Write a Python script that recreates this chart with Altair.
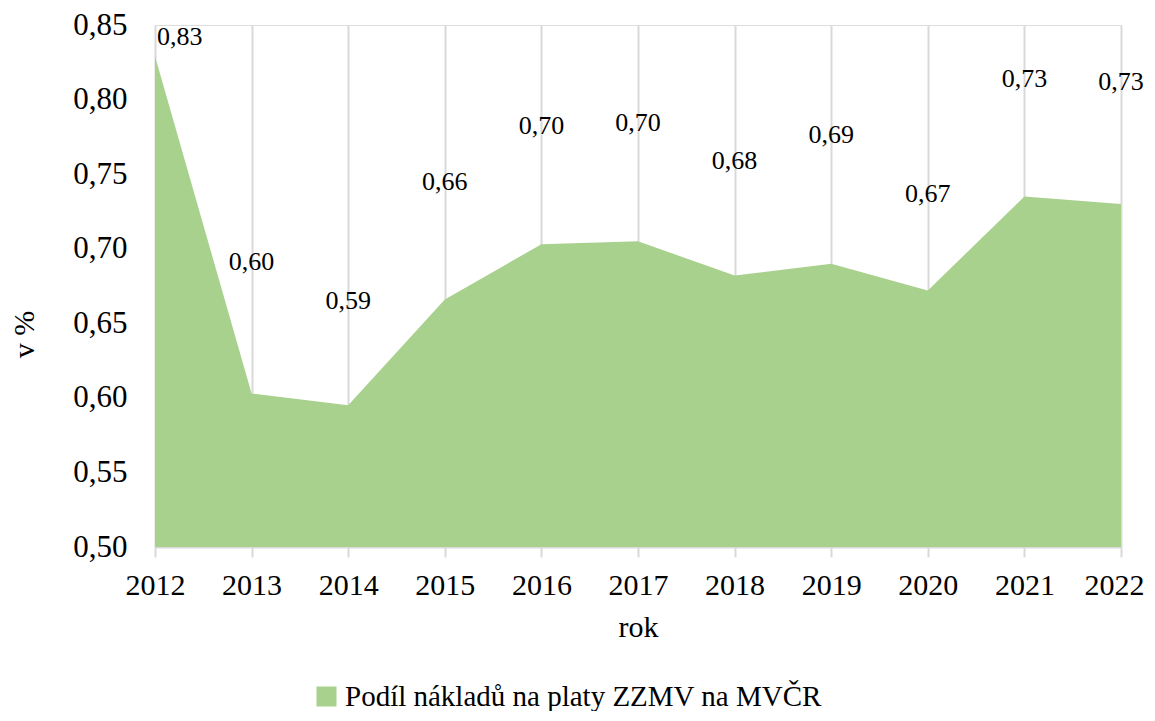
import altair as alt
import pandas as pd

years = [2012, 2013, 2014, 2015, 2016, 2017, 2018, 2019, 2020, 2021, 2022]
values = [0.829, 0.603, 0.595, 0.666, 0.703, 0.705, 0.682, 0.690, 0.672, 0.735, 0.730]
label_texts = ["0,83", "0,60", "0,59", "0,66", "0,70", "0,70", "0,68", "0,69", "0,67", "0,73", "0,73"]
label_y = [0.842, 0.691, 0.665, 0.745, 0.782, 0.784, 0.759, 0.776, 0.737, 0.814, 0.812]
series_name = "Podíl nákladů na platy ZZMV na MVČR"
y_ticks = [0.50, 0.55, 0.60, 0.65, 0.70, 0.75, 0.80, 0.85]

FONT = "Liberation Serif"
GREEN = "#A9D18E"

df = pd.DataFrame({
    "rok": years,
    "hodnota": values,
    "popisek": label_texts,
    "pozice": label_y,
    "serie": [series_name] * len(years),
})

x_enc = alt.X(
    "rok:Q",
    scale=alt.Scale(domain=[2012, 2022], nice=False, zero=False),
    axis=alt.Axis(
        title="rok",
        values=years,
        format="d",
        labelFlush=False,
        labelOverlap=False,
        labelOffset={"condition": {"test": "datum.value == 2022", "value": -7}, "value": 0},
        grid=True,
        gridColor="#D9D9D9",
        gridWidth=2,
        domainColor="#D9D9D9",
        domainWidth=2,
        tickColor="#D9D9D9",
        tickWidth=2,
        tickSize=10,
        labelPadding=13,
        labelFont=FONT,
        labelFontSize=30,
        labelColor="black",
        titleFont=FONT,
        titleFontSize=30,
        titleFontWeight="normal",
        titleColor="black",
        titlePadding=12,
    ),
)

y_axis = alt.Axis(
    title="v %",
    values=y_ticks,
    labelExpr="replace(format(datum.value, '.2f'), '.', ',')",
    grid=False,
    domain=False,
    ticks=False,
    tickSize=0,
    labelPadding=28,
    labelFont=FONT,
    labelFontSize=31,
    labelColor="black",
    titleFont=FONT,
    titleFontSize=30,
    titleFontWeight="normal",
    titleColor="black",
    titlePadding=33,
    titleY=309,
)

y_scale = alt.Scale(domain=[0.5, 0.85], nice=False, zero=False, clamp=True)

area = alt.Chart(df).mark_area(opacity=1).encode(
    x=x_enc,
    y=alt.Y("hodnota:Q", scale=y_scale, axis=y_axis),
    color=alt.Color(
        "serie:N",
        scale=alt.Scale(domain=[series_name], range=[GREEN]),
        legend=alt.Legend(
            title=None,
            orient="none",
            legendX=157,
            legendY=657,
            symbolType="square",
            symbolSize=400,
            symbolStrokeWidth=0,
            labelFont=FONT,
            labelFontSize=29,
            labelColor="black",
            labelLimit=0,
            labelOffset=4,
        ),
    ),
)

text_common = dict(font=FONT, fontSize=26, color="black", baseline="middle")

labels_mid = alt.Chart(df).transform_filter("datum.rok > 2012").mark_text(
    align="center", **text_common
).encode(
    x="rok:Q",
    y=alt.Y("pozice:Q", scale=y_scale),
    text="popisek:N",
)

labels_first = alt.Chart(df).transform_filter("datum.rok == 2012").mark_text(
    align="left", dx=2, **text_common
).encode(
    x="rok:Q",
    y=alt.Y("pozice:Q", scale=y_scale),
    text="popisek:N",
)

chart = alt.layer(area, labels_mid, labels_first).properties(
    width=966,
    height=522,
    autosize=alt.AutoSizeParams(type="none"),
    padding={"left": 147, "top": 17, "right": 25, "bottom": 164},
).configure_view(stroke=None).configure(background="white")

chart.save("out.html", embed_options={"renderer": "svg", "actions": False})
